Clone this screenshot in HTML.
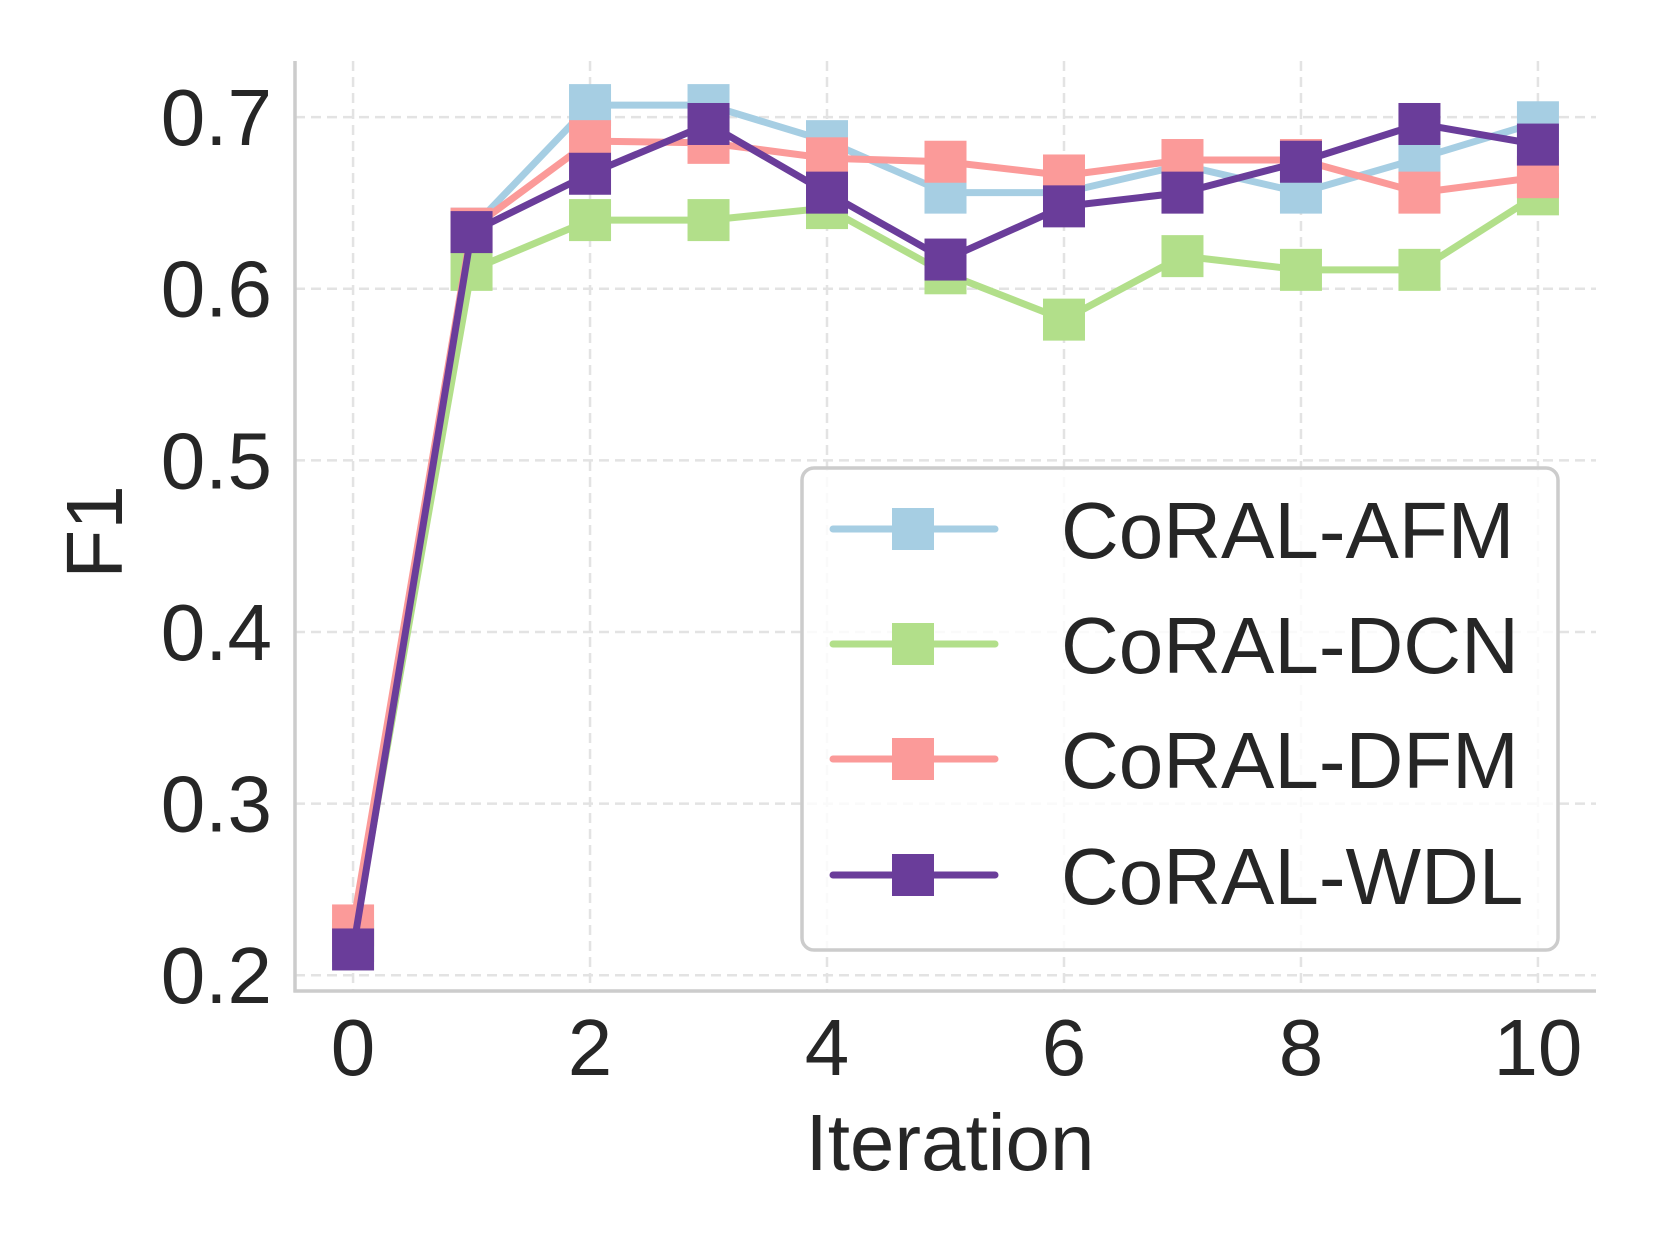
<!DOCTYPE html>
<html><head><meta charset="utf-8"><style>
html,body{margin:0;padding:0;background:#fff;}
svg{display:block;font-family:"Liberation Sans",Arial,sans-serif;}
</style></head><body>
<svg id="chart" width="1661" height="1246" viewBox="0 0 1661 1246"></svg>
<script>
const iterations=[0,1,2,3,4,5,6,7,8,9,10];
const seriesNames=["CoRAL-AFM","CoRAL-DCN","CoRAL-DFM","CoRAL-WDL"];
const afmValues=[0.220,0.635,0.707,0.707,0.686,0.656,0.656,0.672,0.656,0.676,0.697];
const dcnValues=[0.220,0.611,0.640,0.640,0.647,0.609,0.582,0.619,0.611,0.611,0.655];
const dfmValues=[0.229,0.635,0.686,0.685,0.676,0.674,0.666,0.675,0.675,0.656,0.665];
const wdlValues=[0.215,0.633,0.667,0.696,0.656,0.617,0.648,0.656,0.674,0.696,0.684];
const yTicks=[0.2,0.3,0.4,0.5,0.6,0.7];
const yTickLabels=["0.2","0.3","0.4","0.5","0.6","0.7"];
const xTicks=[0,2,4,6,8,10];
const xTickLabels=["0","2","4","6","8","10"];

const NS="http://www.w3.org/2000/svg";
const svg=document.getElementById('chart');
const L=295,R=1596,T=61,B=991;
const X0=-0.49,X1=10.49,Y0=0.1908,Y1=0.7327;
const xs=v=>L+(v-X0)/(X1-X0)*(R-L);
const ys=v=>B-(v-Y0)/(Y1-Y0)*(B-T);
function mk(tag,attrs,parent){const e=document.createElementNS(NS,tag);for(const k in attrs)e.setAttribute(k,attrs[k]);(parent||svg).appendChild(e);return e;}

const grid=mk('g',{});


[0,1,2,3,4,5,6,7,8,9,10].forEach(v=>{if(v%2===0){const l=mk('line',{x1:xs(v),x2:xs(v),y1:T,y2:B,stroke:'#e3e3e3','stroke-width':2.5,'stroke-dasharray':'10,6'},grid);

}});
yTicks.forEach(v=>{const l=mk('line',{x1:L,x2:R,y1:ys(v),y2:ys(v),stroke:'#e3e3e3','stroke-width':2.5,'stroke-dasharray':'10,6'},grid);

});

const sl=mk('line',{x1:L,x2:L,y1:T,y2:B+1.5,stroke:'#cccccc','stroke-width':3.5});


const sb=mk('line',{x1:L-1.5,x2:R,y1:B,y2:B,stroke:'#cccccc','stroke-width':3.5});



yTicks.forEach((v,i)=>{const t=mk('text',{x:272,y:ys(v)+28,'text-anchor':'end','font-size':80,fill:'#262626'});t.textContent=yTickLabels[i];

});
xTicks.forEach((v,i)=>{const t=mk('text',{x:xs(v),y:1075,'text-anchor':'middle','font-size':80,fill:'#262626'});t.textContent=xTickLabels[i];

});
const xt=mk('text',{x:950,y:1170,'text-anchor':'middle','font-size':80,fill:'#262626'});xt.textContent='Iteration';


const yt=mk('text',{x:0,y:0,'text-anchor':'middle','font-size':80,fill:'#262626',transform:'translate(122,532) rotate(-90)'});yt.textContent='F1';



const colors=['#a6cee3','#b2df8a','#fb9a99','#6a3d9a'];
const allValues=[afmValues,dcnValues,dfmValues,wdlValues];
const keys=['afm','dcn','dfm','wdl'];
const MS=42;
allValues.forEach((vals,si)=>{
  const g=mk('g',{});
  
  
  const pts=vals.map((v,i)=>xs(iterations[i])+','+ys(v)).join(' ');
  const pl=mk('polyline',{points:pts,fill:'none',stroke:colors[si],'stroke-width':7,'stroke-linejoin':'round','stroke-linecap':'round'},g);
  
  
  vals.forEach((v,i)=>{const r=mk('rect',{x:xs(iterations[i])-MS/2,y:ys(v)-MS/2,width:MS,height:MS,fill:colors[si]},g);
  
  });
});

const lg=mk('g',{});


mk('rect',{x:802,y:468,width:756,height:482,rx:12,fill:'#ffffff','fill-opacity':0.8,stroke:'#cccccc','stroke-width':3.5},lg);
const rows=[529,644,759,875];
seriesNames.forEach((n,i)=>{
  const e=mk('g',{},lg);
  
  
  mk('line',{x1:833,x2:995,y1:rows[i],y2:rows[i],stroke:colors[i],'stroke-width':7,'stroke-linecap':'round'},e);
  mk('rect',{x:913-MS/2,y:rows[i]-MS/2,width:MS,height:MS,fill:colors[i]},e);
  const t=mk('text',{x:1061,y:rows[i]+29,'font-size':80,fill:'#262626'},e);t.textContent=n;
});
</script>
</body></html>
